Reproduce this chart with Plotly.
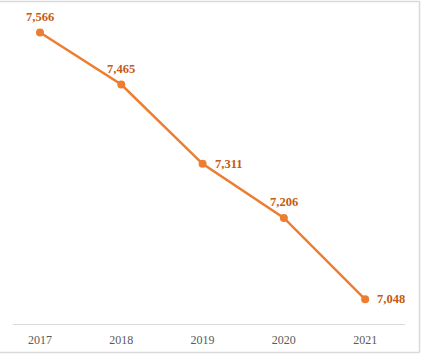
import plotly.graph_objects as go

years = ["2017", "2018", "2019", "2020", "2021"]
values = [7566, 7465, 7311, 7206, 7048]
labels = ["7,566", "7,465", "7,311", "7,206", "7,048"]
label_side = ["top", "top", "right", "top", "right"]

fig = go.Figure()
fig.add_trace(go.Scatter(
    x=list(range(len(years))), y=values,
    mode="lines+markers",
    line=dict(color="#ED7D31", width=2.5),
    marker=dict(color="#ED7D31", size=8, symbol="circle"),
    cliponaxis=False,
    hoverinfo="skip",
))

annotations = []
for i, (v, t, s) in enumerate(zip(values, labels, label_side)):
    a = dict(x=i, y=v, xref="x", yref="y", text="<b>%s</b>" % t, showarrow=False,
             font=dict(family="Liberation Serif", size=12.5, color="#C55A11"))
    if s == "top":
        a.update(xanchor="center", yanchor="middle", yshift=16)
    else:
        a.update(xanchor="left", yanchor="middle", xshift=10)
    annotations.append(a)

L, R, T, B = 13, 16, 15, 30
W, H = 421, 354
pw, ph = W - L - R, H - T - B

def px(x):
    return (x - L) / pw

def py(y):
    return (H - B - y) / ph

border = "#d9d9d9"
fig.update_layout(
    width=W, height=H,
    margin=dict(l=L, r=R, t=T, b=B, autoexpand=False),
    paper_bgcolor="white", plot_bgcolor="white",
    showlegend=False,
    annotations=annotations,
    xaxis=dict(
        range=[-0.332, 4.49],
        tickmode="array", tickvals=list(range(len(years))), ticktext=years,
        showgrid=False, zeroline=False,
        showline=True, linecolor=border, linewidth=1,
        ticks="", ticklabelstandoff=5, automargin=False,
        tickfont=dict(family="Liberation Serif", size=12, color="#595959"),
        fixedrange=True,
    ),
    yaxis=dict(
        range=[7000, 7600], visible=False, showgrid=False, zeroline=False,
        automargin=False, fixedrange=True,
    ),
    shapes=[
        dict(type="line", xref="paper", yref="paper", x0=px(0), x1=px(419.5), y0=py(1.5), y1=py(1.5),
             line=dict(color=border, width=1.5)),
        dict(type="line", xref="paper", yref="paper", x0=px(419.5), x1=px(419.5), y0=py(1.5), y1=py(352.5),
             line=dict(color=border, width=1.5)),
        dict(type="line", xref="paper", yref="paper", x0=px(0), x1=px(419.5), y0=py(352.5), y1=py(352.5),
             line=dict(color=border, width=1.5)),
    ],
)

fig.write_html("out.html")
